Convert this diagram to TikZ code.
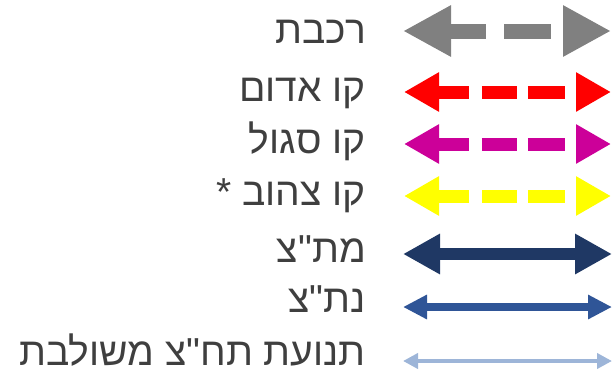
\documentclass[tikz,border=0pt]{standalone}
\usepackage{fontspec}
\newfontfamily\hebfont[Script=Hebrew,Ligatures=TeXOff]{Liberation Sans}
\TeXXeTstate=1
\usetikzlibrary{arrows.meta}
\definecolor{cgray}{HTML}{808080}
\definecolor{cred}{HTML}{FF0000}
\definecolor{cmag}{HTML}{CC0099}
\definecolor{cyel}{HTML}{FFFF00}
\definecolor{cnavy}{HTML}{1F3864}
\definecolor{cblue}{HTML}{2F5597}
\definecolor{clight}{HTML}{9DB5D8}
\definecolor{ctext}{HTML}{3F3F3F}
\tikzset{
  lbl/.style={anchor=base east, inner sep=0pt, text=ctext, font=\hebfont\fontsize{39}{39}\selectfont},
  bigarr/.style={line width=15pt, draw=cgray, dash pattern=on 38pt off 18pt on 47pt off 20pt,
     {Triangle[length=48pt,width=48pt]}-{Triangle[length=48pt,width=48pt]}},
  dasharr/.style={line width=13pt, dash pattern=on 32pt off 13pt on 35pt off 11pt on 37pt off 20pt,
     {Triangle[length=35pt,width=37pt]}-{Triangle[length=35pt,width=37pt]}},
  navyarr/.style={line width=12pt, draw=cnavy,
     {Triangle[length=37pt,width=38pt]}-{Triangle[length=37pt,width=38pt]}},
  bluearr/.style={line width=8pt, draw=cblue,
     {Triangle[length=24pt,width=23pt]}-{Triangle[length=24pt,width=23pt]}},
  lightarr/.style={line width=4.5pt, draw=clight,
     {Triangle[length=15pt,width=15pt]}-{Triangle[length=15pt,width=15pt]}},
}
\begin{document}
\begin{tikzpicture}[x=1pt,y=-1pt]
\useasboundingbox (0,0) rectangle (615,375);
% labels
\node[lbl] (t1) at (366,43.5) {\beginR רכבת\endR};
\node[lbl] (t2) at (366,101.5) {\beginR קו אדום\endR};
\node[lbl] (t3) at (366,153.5) {\beginR קו סגול\endR};
\node[lbl] (t4) at (366,205.5) {\beginR קו צהוב *\endR};
\node[lbl] (t5) at (366,262.5) {\beginR מת"צ\endR};
\node[lbl] (t6) at (366,312.5) {\beginR נת"צ\endR};
\node[lbl] (t7) at (366,365) {\beginR תנועת תח"צ משולבת\endR};
% arrow end points
\coordinate (a1) at (403,31); \coordinate (b1) at (611,31);
\coordinate (a2) at (404,92); \coordinate (b2) at (611,92);
\coordinate (a3) at (404,144); \coordinate (b3) at (611,144);
\coordinate (a4) at (404,196); \coordinate (b4) at (611,196);
\coordinate (a5) at (403,254); \coordinate (b5) at (612,254);
\coordinate (a6) at (403,307); \coordinate (b6) at (612,307);
\coordinate (a7) at (403,361); \coordinate (b7) at (612,361);
\draw[bigarr] (a1) -- (b1);
\draw[dasharr, draw=cred] (a2) -- (b2);
\draw[dasharr, draw=cmag] (a3) -- (b3);
\draw[dasharr, draw=cyel] (a4) -- (b4);
\draw[navyarr] (a5) -- (b5);
\draw[bluearr] (a6) -- (b6);
\draw[lightarr] (a7) -- (b7);
\end{tikzpicture}
\end{document}
